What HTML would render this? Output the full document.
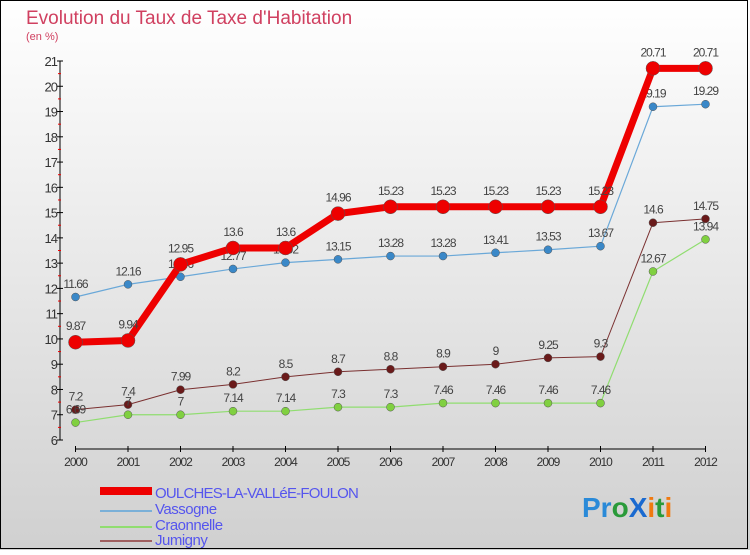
<!DOCTYPE html>
<html><head><meta charset="utf-8"><style>
body{margin:0;width:750px;height:550px;overflow:hidden;font-family:"Liberation Sans",sans-serif}
</style></head><body>
<svg id="chart" width="750" height="550" xmlns="http://www.w3.org/2000/svg">
<defs><linearGradient id="bg" x1="0" y1="0" x2="0" y2="1"><stop offset="0" stop-color="#ffffff"/><stop offset="1" stop-color="#d0d0d0"/></linearGradient></defs>
<rect x="0" y="0" width="750" height="550" fill="url(#bg)"/>
<rect x="0.5" y="0.5" width="747" height="548" fill="none" stroke="#000" stroke-width="1"/>
<text x="26" y="24" font-size="19" fill="#d04060">Evolution du Taux de Taxe d'Habitation</text>
<text x="26" y="40" font-size="11" fill="#d04060">(en %)</text>
<g id="axes"></g><g id="series"></g>
<g font-size="15" fill="#5555ee">
<rect x="100" y="487" width="52" height="8" fill="#e00"/>
<text x="155" y="498" letter-spacing="-0.8">OULCHES-LA-VALLéE-FOULON</text>
<rect x="100" y="510" width="52" height="2" fill="#7ab0d8"/>
<text x="155" y="514" letter-spacing="-0.5">Vassogne</text>
<rect x="100" y="526" width="52" height="2" fill="#90dd70"/>
<text x="155" y="530" letter-spacing="-0.5">Craonnelle</text>
<rect x="100" y="540" width="52" height="2" fill="#a06060"/>
<text x="155" y="545" letter-spacing="-0.5">Jumigny</text>
</g>
<g font-size="28" font-weight="bold">
<text x="582" y="517"><tspan fill="#2a8ad8">Pr</tspan><tspan fill="#2a9a3a">o</tspan><tspan fill="#1a6ad0">X</tspan><tspan fill="#f07a10">i</tspan><tspan fill="#2a9a3a">t</tspan><tspan fill="#f07a10">i</tspan></text>
</g>
</svg>
<script>
const years=[2000,2001,2002,2003,2004,2005,2006,2007,2008,2009,2010,2011,2012];
const oulches=[9.87,9.94,12.95,13.6,13.6,14.96,15.23,15.23,15.23,15.23,15.23,20.71,20.71];
const vassogne=[11.66,12.16,12.46,12.77,13.02,13.15,13.28,13.28,13.41,13.53,13.67,19.19,19.29];
const craonnelle=[6.69,7,7,7.14,7.14,7.3,7.3,7.46,7.46,7.46,7.46,12.67,13.94];
const jumigny=[7.2,7.4,7.99,8.2,8.5,8.7,8.8,8.9,9,9.25,9.3,14.6,14.75];
const yTicks=[6,7,8,9,10,11,12,13,14,15,16,17,18,19,20,21];
const NS="http://www.w3.org/2000/svg";
const x=i=>75.5+i*(705.5-75.5)/(years.length-1);
const y=v=>440-(v-6)*(440-61)/15;
function mk(t,a,p){const e=document.createElementNS(NS,t);for(const k in a)e.setAttribute(k,a[k]);p.appendChild(e);return e;}
const ax=document.getElementById('axes');
let l=mk('line',{x1:60,y1:61,x2:60,y2:440,stroke:'#000'},ax);

yTicks.forEach(v=>{mk('line',{x1:57,y1:y(v),x2:63,y2:y(v),stroke:'#000'},ax);
 if(v<21)mk('line',{x1:58,y1:y(v+0.5),x2:61,y2:y(v+0.5),stroke:'#e00'},ax);
 const t=mk('text',{x:57,y:y(v)+5,'font-size':13,'text-anchor':'end',fill:'#333','letter-spacing':'-1'},ax);t.textContent=v;
 });
l=mk('line',{x1:x(0),y1:449,x2:x(12),y2:449,stroke:'#000'},ax);

years.forEach((yr,i)=>{mk('line',{x1:x(i),y1:446,x2:x(i),y2:452,stroke:'#000'},ax);
 const t=mk('text',{x:x(i),y:466,'font-size':12,'text-anchor':'middle',fill:'#333','letter-spacing':'-1'},ax);t.textContent=yr;
 });
const sg=document.getElementById('series');
function series(name,vals,color,w,r,dot){
 const g=mk('g',{},sg);
 mk('polyline',{points:vals.map((v,i)=>x(i)+','+y(v)).join(' '),fill:'none',stroke:color,'stroke-width':w,'stroke-linejoin':'round'},g);
 vals.forEach((v,i)=>{const c=mk('circle',{cx:x(i),cy:y(v),r:r,fill:dot,stroke:'#555','stroke-width':0.5},g);
  
  const t=mk('text',{x:x(i),y:y(v)-r-5,'font-size':12,'text-anchor':'middle',fill:'#444','letter-spacing':'-1'},g);t.textContent=v;
  });
}
series('jumigny',jumigny,'#7a3030',1,4,'#6a1a1a');
series('craonnelle',craonnelle,'#90dd70',1.2,4,'#80d040');
series('vassogne',vassogne,'#6aa8d8',1.2,4,'#3a88c8');
series('oulches',oulches,'#ee0000',7,7,'#ee0000');
</script>
</body></html>
